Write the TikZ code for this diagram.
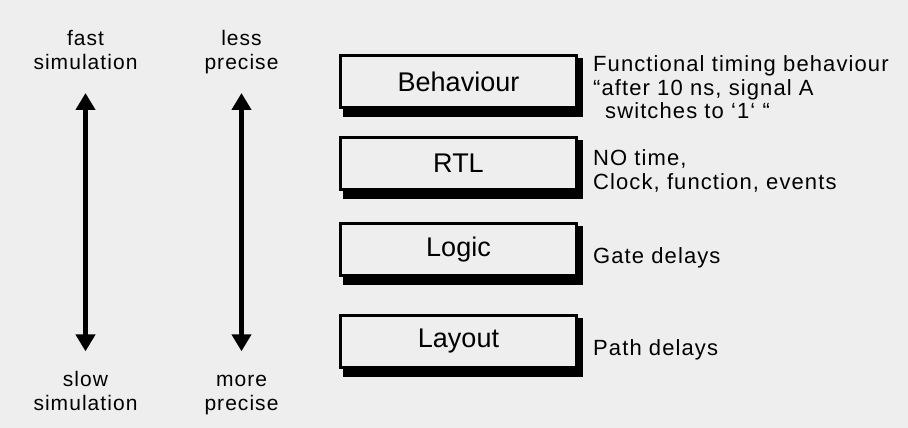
\documentclass[tikz,border=0pt]{standalone}
\usepackage{fontspec}
\setmainfont{Liberation Sans}
\newfontfamily\spacedsans[LetterSpace=5.0]{Liberation Sans}
\usetikzlibrary{arrows.meta, positioning, backgrounds}
\definecolor{paper}{RGB}{238,238,238}
\tikzset{
  layerbox/.style={draw=black, rectangle, line width=3pt, fill=paper, minimum width=236pt, minimum height=52pt, inner sep=0pt, font=\fontsize{27}{30}\selectfont},
  layernote/.style={align=left, inner sep=0pt, text depth=0pt, font=\spacedsans\fontsize{22}{23.5}\selectfont},
  sidelabel/.style={align=center, inner sep=0pt, text depth=0pt, font=\spacedsans\fontsize{21}{24}\selectfont},
  updown/.style={{Triangle[length=17pt,width=19pt]}-{Triangle[length=17pt,width=19pt]}, line width=5pt, draw=black}
}

\begin{document}
\begin{tikzpicture}[x=1pt, y=1pt]

\begin{scope}[on background layer]
  \fill[paper] (0,0) rectangle (908,428);
\end{scope}
\useasboundingbox (0,0) rectangle (908,428);

% abstraction levels
\node[layerbox] (beh) at (458.5,346.5) {Behaviour};
\node[layerbox, below=27pt of beh] (rtl) {RTL};
\node[layerbox, below=31pt of rtl] (logic) {Logic};
\node[layerbox, below=37pt of logic] (layout) {Layout};

% what each level models
\node[layernote, right=15pt of beh, yshift=-6pt] (behtxt) {Functional timing behaviour\\“after 10 ns, signal A\\\hspace*{12pt}switches to ‘1‘ “};
\node[layernote, right=15pt of rtl, yshift=-6pt] (rtltxt) {NO time,\\Clock, function, events};
\node[layernote, right=15pt of logic, yshift=-6pt] (logictxt) {Gate delays};
\node[layernote, right=15pt of layout, yshift=-6pt] (layouttxt) {Path delays};

\begin{scope}[on background layer]
  \foreach \lv in {beh, rtl, logic, layout}
    \fill ([shift={(4,-4)}]\lv.north west) rectangle ([shift={(5,-8)}]\lv.south east);
\end{scope}

% speed and precision scales
\node[sidelabel, anchor=south] (fast) at (85.5,358) {fast\\simulation};
\node[sidelabel, anchor=south] (less) at (241.5,358) {less\\precise};
\node[sidelabel, anchor=south] (slow) at (85.5,17) {slow\\simulation};
\node[sidelabel, anchor=south] (more) at (241.5,17) {more\\precise};

\draw[updown, shorten <=23pt, shorten >=20pt] (fast) -- (slow);
\draw[updown, shorten <=23pt, shorten >=24pt] (less) -- (more);

\end{tikzpicture}
\end{document}
